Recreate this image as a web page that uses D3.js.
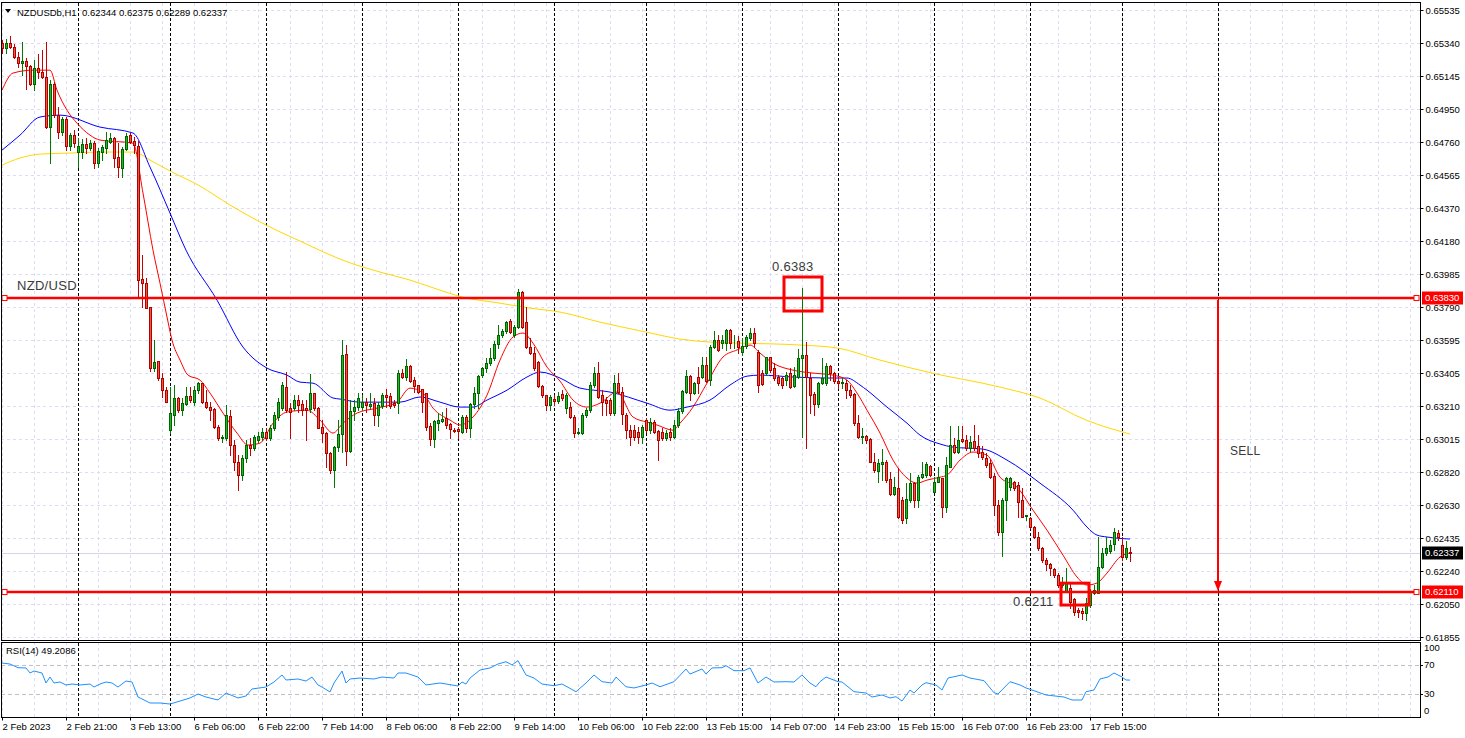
<!DOCTYPE html>
<html>
<head>
<meta charset="utf-8">
<script src="https://d3js.org/d3.v7.min.js"></script>
<style>
  body { margin: 0; background: #fff; }
  svg { display: block; font-family: "Liberation Sans", Arial, sans-serif; }
</style>
</head>
<body>
<div id="chart"></div>
<script>
// NZDUSD H1 chart - candles, 3 moving averages, RSI(14)

const symbol = "NZDUSDb,H1";

// price axis labels (top to bottom)
const priceTicks = ["0.65535","0.65340","0.65145","0.64950","0.64760","0.64565","0.64370","0.64180","0.63985","0.63790",
  "0.63595","0.63405","0.63210","0.63015","0.62820","0.62630","0.62435","0.62240","0.62050","0.61855"];

// time labels: bar index and text
const timeBars = [0,16,32,48,64,80,96,112,128,144,160,176,192,208,224,240,256,272];
const timeText = ["2 Feb 2023","2 Feb 21:00","3 Feb 13:00","6 Feb 06:00","6 Feb 22:00","7 Feb 14:00","8 Feb 06:00",
  "8 Feb 22:00","9 Feb 14:00","10 Feb 06:00","10 Feb 22:00","13 Feb 15:00","14 Feb 07:00","14 Feb 23:00",
  "15 Feb 15:00","16 Feb 07:00","16 Feb 23:00","17 Feb 15:00"];

// day separators (bar index)
const daySeparators = [19,42,66,90,114,138,161,185,209,233,257,280,304];

// hourly candles: [open, high, low, close]
const candles = [
[0.65321,0.65339,0.65263,0.65292],[0.65292,0.65345,0.65263,0.65321],[0.65321,0.65362,0.65292,0.65298],[0.65298,0.65316,0.65234,0.65240],
[0.65240,0.65269,0.65181,0.65204],[0.65204,0.65327,0.65134,0.65216],[0.65216,0.65234,0.65052,0.65187],[0.65187,0.65193,0.65076,0.65082],
[0.65082,0.65222,0.65046,0.65175],[0.65175,0.65257,0.65117,0.65152],[0.65152,0.65280,0.65117,0.65123],[0.65123,0.65327,0.64824,0.64830],
[0.64830,0.65105,0.64619,0.65082],[0.65082,0.65093,0.64889,0.64900],[0.64900,0.64947,0.64766,0.64801],[0.64801,0.64889,0.64783,0.64877],
[0.64877,0.64889,0.64695,0.64719],[0.64719,0.64795,0.64695,0.64783],[0.64783,0.64812,0.64713,0.64736],[0.64684,0.64766,0.64596,0.64719],
[0.64684,0.64760,0.64649,0.64731],[0.64731,0.64766,0.64678,0.64707],[0.64707,0.64754,0.64695,0.64736],[0.64736,0.64748,0.64590,0.64619],
[0.64619,0.64707,0.64596,0.64690],[0.64684,0.64725,0.64637,0.64713],[0.64707,0.64801,0.64678,0.64754],[0.64742,0.64795,0.64736,0.64766],
[0.64766,0.64772,0.64596,0.64649],[0.64655,0.64736,0.64538,0.64596],[0.64590,0.64713,0.64538,0.64701],[0.64701,0.64795,0.64695,0.64777],
[0.64783,0.64795,0.64736,0.64742],[0.64748,0.64772,0.64678,0.64725],[0.64719,0.64748,0.63836,0.63935],[0.63941,0.64081,0.63777,0.63917],
[0.63917,0.63947,0.63771,0.63771],[0.63777,0.63777,0.63403,0.63420],[0.63420,0.63584,0.63403,0.63455],[0.63461,0.63461,0.63350,0.63362],
[0.63362,0.63391,0.63251,0.63291],[0.63291,0.63309,0.63221,0.63221],[0.63057,0.63309,0.63040,0.63157],[0.63145,0.63321,0.63087,0.63245],
[0.63245,0.63251,0.63163,0.63174],[0.63174,0.63245,0.63145,0.63215],[0.63210,0.63309,0.63204,0.63256],[0.63256,0.63309,0.63221,0.63233],
[0.63221,0.63315,0.63204,0.63291],[0.63291,0.63338,0.63274,0.63332],[0.63332,0.63332,0.63215,0.63221],[0.63221,0.63291,0.63186,0.63192],
[0.63192,0.63221,0.63116,0.63174],[0.63180,0.63186,0.63069,0.63075],[0.63075,0.63087,0.62999,0.63011],[0.63011,0.63028,0.62987,0.63017],
[0.63011,0.63204,0.62999,0.63145],[0.63139,0.63174,0.62911,0.62970],[0.62970,0.62999,0.62823,0.62870],[0.62870,0.62911,0.62706,0.62794],
[0.62794,0.62911,0.62765,0.62894],[0.62894,0.62999,0.62870,0.62970],[0.62970,0.63011,0.62911,0.62952],[0.62952,0.63028,0.62940,0.63017],
[0.62999,0.63046,0.62987,0.63022],[0.63017,0.63069,0.62999,0.63046],[0.63046,0.63069,0.62999,0.63011],[0.63011,0.63087,0.62999,0.63069],
[0.63069,0.63163,0.63057,0.63145],[0.63134,0.63245,0.63116,0.63221],[0.63186,0.63338,0.63174,0.63321],[0.63309,0.63397,0.63163,0.63174],
[0.63186,0.63215,0.63011,0.63163],[0.63186,0.63262,0.63174,0.63233],[0.63233,0.63262,0.63163,0.63204],[0.63210,0.63233,0.63145,0.63174],
[0.63186,0.63233,0.62999,0.63174],[0.63180,0.63385,0.63163,0.63274],[0.63274,0.63274,0.63174,0.63186],[0.63186,0.63192,0.63069,0.63069],
[0.63075,0.63116,0.62987,0.63040],[0.63040,0.63046,0.62841,0.62923],[0.62923,0.62929,0.62806,0.62823],[0.62823,0.62964,0.62724,0.62958],
[0.62958,0.63116,0.62935,0.63034],[0.63034,0.63584,0.62929,0.63496],[0.63502,0.63555,0.62853,0.62935],[0.62935,0.63233,0.62929,0.63169],
[0.63169,0.63233,0.63116,0.63192],[0.63192,0.63274,0.63174,0.63245],[0.63192,0.63262,0.63174,0.63221],[0.63221,0.63245,0.63163,0.63204],
[0.63198,0.63274,0.63186,0.63210],[0.63215,0.63245,0.63087,0.63145],[0.63145,0.63221,0.63081,0.63204],[0.63198,0.63274,0.63186,0.63262],
[0.63262,0.63297,0.63192,0.63251],[0.63256,0.63274,0.63186,0.63198],[0.63215,0.63233,0.63192,0.63204],[0.63215,0.63408,0.63157,0.63391],
[0.63391,0.63414,0.63362,0.63368],[0.63368,0.63473,0.63350,0.63432],[0.63432,0.63438,0.63338,0.63344],[0.63350,0.63368,0.63280,0.63315],
[0.63321,0.63321,0.63274,0.63280],[0.63297,0.63297,0.63163,0.63221],[0.63274,0.63274,0.63057,0.63075],[0.63081,0.63098,0.62970,0.63005],
[0.63005,0.63116,0.62958,0.63110],[0.63098,0.63157,0.63057,0.63116],[0.63110,0.63163,0.63104,0.63122],[0.63128,0.63186,0.63069,0.63087],
[0.63093,0.63098,0.63011,0.63063],[0.63057,0.63069,0.63046,0.63052],[0.63063,0.63075,0.63011,0.63052],[0.63046,0.63145,0.63040,0.63134],
[0.63134,0.63145,0.63046,0.63069],[0.63069,0.63215,0.63017,0.63210],[0.63210,0.63309,0.63186,0.63274],[0.63274,0.63379,0.63186,0.63373],
[0.63379,0.63426,0.63368,0.63420],[0.63420,0.63479,0.63397,0.63449],[0.63449,0.63537,0.63438,0.63479],[0.63479,0.63578,0.63467,0.63561],
[0.63561,0.63672,0.63537,0.63613],[0.63613,0.63648,0.63602,0.63637],[0.63637,0.63695,0.63625,0.63689],[0.63695,0.63707,0.63625,0.63631],
[0.63613,0.63672,0.63602,0.63660],[0.63660,0.63882,0.63654,0.63865],[0.63865,0.63871,0.63654,0.63660],[0.63689,0.63777,0.63537,0.63543],
[0.63543,0.63596,0.63502,0.63508],[0.63508,0.63543,0.63408,0.63420],[0.63455,0.63461,0.63309,0.63315],[0.63315,0.63321,0.63251,0.63262],
[0.63262,0.63262,0.63174,0.63204],[0.63204,0.63262,0.63174,0.63251],[0.63239,0.63262,0.63204,0.63227],[0.63227,0.63280,0.63215,0.63256],
[0.63268,0.63291,0.63233,0.63245],[0.63186,0.63274,0.63157,0.63262],[0.63192,0.63221,0.63128,0.63134],[0.63134,0.63145,0.63017,0.63040],
[0.63040,0.63069,0.63034,0.63046],[0.63040,0.63157,0.63034,0.63145],[0.63145,0.63186,0.63134,0.63174],[0.63174,0.63338,0.63163,0.63321],
[0.63321,0.63426,0.63309,0.63391],[0.63391,0.63455,0.63245,0.63251],[0.63262,0.63291,0.63145,0.63221],[0.63233,0.63251,0.63145,0.63215],
[0.63233,0.63245,0.63145,0.63157],[0.63157,0.63379,0.63145,0.63332],[0.63332,0.63391,0.63274,0.63280],[0.63280,0.63309,0.63093,0.63151],
[0.63145,0.63157,0.63011,0.63057],[0.63057,0.63087,0.62970,0.63017],[0.63057,0.63087,0.62999,0.63017],[0.63046,0.63075,0.62981,0.63017],
[0.63017,0.63087,0.62981,0.63075],[0.63116,0.63128,0.63046,0.63057],[0.63057,0.63128,0.63040,0.63104],[0.63104,0.63116,0.63040,0.63046],
[0.63052,0.63057,0.62882,0.62999],[0.63046,0.63069,0.62999,0.63011],[0.63011,0.63057,0.62999,0.63040],[0.63046,0.63069,0.62999,0.63017],
[0.63017,0.63116,0.63011,0.63087],[0.63087,0.63186,0.63075,0.63169],[0.63169,0.63291,0.63157,0.63286],[0.63280,0.63408,0.63274,0.63373],
[0.63373,0.63379,0.63233,0.63274],[0.63274,0.63338,0.63268,0.63332],[0.63368,0.63426,0.63274,0.63332],[0.63368,0.63485,0.63362,0.63438],
[0.63438,0.63485,0.63338,0.63344],[0.63350,0.63555,0.63321,0.63543],[0.63543,0.63637,0.63537,0.63584],[0.63584,0.63613,0.63520,0.63526],
[0.63566,0.63613,0.63537,0.63584],[0.63566,0.63648,0.63526,0.63643],[0.63643,0.63648,0.63537,0.63566],[0.63578,0.63613,0.63537,0.63580],
[0.63578,0.63607,0.63508,0.63543],[0.63514,0.63596,0.63496,0.63549],[0.63549,0.63613,0.63537,0.63602],[0.63596,0.63654,0.63584,0.63625],
[0.63625,0.63654,0.63543,0.63566],[0.63514,0.63526,0.63280,0.63321],[0.63391,0.63408,0.63321,0.63327],[0.63391,0.63485,0.63379,0.63485],
[0.63485,0.63485,0.63397,0.63408],[0.63420,0.63449,0.63350,0.63362],[0.63368,0.63379,0.63321,0.63332],[0.63362,0.63368,0.63303,0.63321],
[0.63350,0.63397,0.63321,0.63379],[0.63391,0.63420,0.63303,0.63309],[0.63315,0.63426,0.63309,0.63379],[0.63368,0.63532,0.63362,0.63479],
[0.63479,0.63888,0.63017,0.63496],[0.63496,0.63572,0.62952,0.63368],[0.63362,0.63391,0.63157,0.63262],[0.63268,0.63280,0.63145,0.63210],
[0.63210,0.63338,0.63192,0.63332],[0.63332,0.63479,0.63327,0.63362],[0.63332,0.63449,0.63321,0.63432],[0.63432,0.63438,0.63350,0.63391],
[0.63391,0.63397,0.63332,0.63344],[0.63344,0.63368,0.63303,0.63332],[0.63332,0.63362,0.63303,0.63338],[0.63332,0.63350,0.63245,0.63291],
[0.63291,0.63321,0.63251,0.63262],[0.63268,0.63274,0.63087,0.63098],[0.63098,0.63145,0.63011,0.63017],[0.63017,0.63069,0.62981,0.63022],
[0.63022,0.63028,0.62981,0.62999],[0.63005,0.63011,0.62870,0.62870],[0.62870,0.62923,0.62812,0.62823],[0.62818,0.62888,0.62753,0.62864],
[0.62859,0.62946,0.62765,0.62870],[0.62870,0.62882,0.62753,0.62765],[0.62771,0.62812,0.62677,0.62683],[0.62683,0.62783,0.62677,0.62724],
[0.62718,0.62835,0.62543,0.62549],[0.62648,0.62666,0.62513,0.62531],[0.62543,0.62747,0.62513,0.62654],[0.62648,0.62806,0.62636,0.62747],
[0.62747,0.62753,0.62607,0.62648],[0.62648,0.62794,0.62607,0.62782],[0.62782,0.62870,0.62777,0.62800],[0.62794,0.62870,0.62782,0.62859],
[0.62847,0.62853,0.62788,0.62794],[0.62695,0.62782,0.62695,0.62753],[0.62753,0.62841,0.62753,0.62782],[0.62777,0.62777,0.62549,0.62607],
[0.62607,0.62900,0.62578,0.62853],[0.62841,0.63081,0.62841,0.62970],[0.62970,0.63011,0.62923,0.62929],[0.62929,0.63081,0.62923,0.62999],
[0.63005,0.63081,0.62987,0.62993],[0.62999,0.63028,0.62940,0.62952],[0.62952,0.63022,0.62935,0.62987],[0.62993,0.63087,0.62940,0.62952],
[0.62964,0.63028,0.62900,0.62923],[0.62929,0.62964,0.62888,0.62900],[0.62894,0.62923,0.62841,0.62853],[0.62864,0.62888,0.62777,0.62782],
[0.62788,0.62806,0.62560,0.62619],[0.62619,0.62648,0.62443,0.62461],[0.62461,0.62660,0.62320,0.62648],[0.62648,0.62782,0.62531,0.62777],
[0.62724,0.62782,0.62706,0.62777],[0.62753,0.62759,0.62706,0.62718],[0.62736,0.62753,0.62549,0.62636],[0.62648,0.62718,0.62549,0.62549],
[0.62554,0.62560,0.62531,0.62560],[0.62543,0.62549,0.62484,0.62490],[0.62490,0.62496,0.62426,0.62432],[0.62432,0.62461,0.62356,0.62367],
[0.62367,0.62373,0.62285,0.62297],[0.62297,0.62309,0.62238,0.62274],[0.62274,0.62279,0.62209,0.62250],[0.62244,0.62250,0.62198,0.62209],
[0.62209,0.62221,0.62139,0.62151],[0.62151,0.62198,0.62139,0.62163],[0.62116,0.62250,0.62110,0.62163],[0.62133,0.62163,0.62016,0.62051],
[0.62069,0.62075,0.61975,0.61993],[0.62004,0.62016,0.61964,0.61993],[0.61999,0.62016,0.61952,0.61987],[0.61987,0.62075,0.61946,0.62045],
[0.62034,0.62127,0.62022,0.62110],[0.62104,0.62151,0.62098,0.62121],[0.62104,0.62432,0.62104,0.62256],[0.62256,0.62367,0.62250,0.62338],
[0.62338,0.62432,0.62326,0.62367],[0.62350,0.62414,0.62338,0.62385],[0.62391,0.62484,0.62356,0.62461],[0.62455,0.62472,0.62414,0.62432],
[0.62385,0.62432,0.62297,0.62315],[0.62315,0.62408,0.62303,0.62367],[0.62344,0.62375,0.62289,0.62337]
];

// moving averages: [bar index, price]
const maFast = [[0,0.65046],[2.75,0.65146],[7.75,0.65163],[12,0.65163],[13.75,0.65046],[16.25,0.64929],[18.75,0.64853],[22,0.64783],
  [24.5,0.64754],[32.75,0.64736],[35.25,0.64444],[37.75,0.64110],[39.5,0.63917],[41.25,0.63719],[42.5,0.63584],[44.5,0.63467],
  [46.5,0.63379],[49.5,0.63350],[52,0.63274],[55.25,0.63157],[58.75,0.63040],[61.5,0.62970],[64.5,0.62981],[67.75,0.63098],
  [71.25,0.63163],[76.25,0.63174],[79.5,0.63116],[82.75,0.63040],[85.25,0.63098],[88.75,0.63157],[93.75,0.63186],[98.75,0.63221],
  [102,0.63303],[105.25,0.63274],[107.75,0.63186],[112,0.63116],[114.5,0.63087],[117.75,0.63134],[121.25,0.63262],[124.5,0.63467],
  [127.75,0.63602],[130.25,0.63625],[132.75,0.63566],[136.25,0.63426],[139.5,0.63344],[142.75,0.63233],[146.25,0.63192],[149.5,0.63215],
  [153.75,0.63280],[157.75,0.63134],[161.25,0.63104],[163.75,0.63087],[167.75,0.63057],[169.5,0.63098],[172.75,0.63192],[176.25,0.63332],
  [180.25,0.63485],[183.75,0.63526],[187,0.63555],[189.5,0.63508],[192.75,0.63449],[197.75,0.63408],[202.75,0.63391],[207.75,0.63379],
  [211.25,0.63350],[213.75,0.63274],[216.25,0.63174],[219.5,0.63040],[222.75,0.62882],[226.25,0.62777],[228.75,0.62747],[231.25,0.62765],
  [234.5,0.62782],[236.25,0.62794],[239.5,0.62882],[242.75,0.62929],[246.25,0.62911],[249.5,0.62782],[253.75,0.62724],[257.75,0.62589],
  [261.25,0.62472],[265.25,0.62326],[268.75,0.62198],[271.25,0.62151],[273.75,0.62163],[276.25,0.62221],[279.5,0.62315],[282,0.62338]];

const maMid = [[0,0.64695],[4.5,0.64783],[9.5,0.64889],[14.5,0.64900],[24.5,0.64830],[32.75,0.64795],[37,0.64596],[42,0.64327],
  [46,0.64110],[53.75,0.63818],[60.25,0.63543],[66.25,0.63420],[71.25,0.63379],[74.5,0.63338],[77.75,0.63332],[82.75,0.63245],
  [84.5,0.63239],[89.5,0.63221],[99.5,0.63221],[104.5,0.63251],[109.5,0.63221],[114.5,0.63192],[117.75,0.63192],[121.25,0.63233],
  [126.25,0.63291],[131.25,0.63368],[134.5,0.63397],[139.5,0.63362],[144.5,0.63303],[152,0.63280],[161.25,0.63215],[167,0.63174],
  [171.25,0.63192],[177,0.63233],[182,0.63321],[186.25,0.63373],[189.5,0.63379],[197.75,0.63368],[206.25,0.63362],[211.25,0.63362],
  [214.5,0.63321],[216.25,0.63291],[221.25,0.63192],[226.25,0.63098],[229.5,0.63028],[234.5,0.62976],[237.75,0.62958],[245.25,0.62946],
  [251.25,0.62882],[259.5,0.62747],[267.75,0.62589],[271.25,0.62490],[273.75,0.62443],[276.25,0.62432],[282,0.62420]];

const maSlow = [[0,0.64608],[4.5,0.64649],[9.5,0.64672],[17,0.64678],[24.5,0.64684],[33,0.64684],[37,0.64637],[42,0.64573],
  [49.5,0.64485],[57,0.64374],[66,0.64257],[74.5,0.64163],[86.5,0.64040],[94.5,0.63982],[102,0.63935],[109.5,0.63876],[115,0.63836],
  [124.5,0.63800],[132,0.63771],[139.5,0.63748],[149.5,0.63689],[161,0.63631],[169.5,0.63590],[177,0.63572],[185,0.63566],
  [199.5,0.63555],[209,0.63537],[219.5,0.63467],[232.5,0.63391],[249.5,0.63309],[259.5,0.63245],[271,0.63116],[282,0.63034]];

// RSI(14): [bar index, value]
const rsi = [[0,72.6],[2,71.2],[4,66.2],[6,65.8],[7,58.9],[8,61.6],[10,58.9],[11,45.2],[12,53.4],[13,45.2],[14.5,46.6],[16,42.5],
  [17.5,43.8],[19.5,42.5],[22,43.8],[23,39.7],[24.5,43.8],[26,46.6],[27.5,45.2],[29,39.7],[31,47.9],[32.5,46.6],[34,26],[34.5,24.7],
  [37,17.8],[39.5,17.8],[42,16.4],[44.5,20.5],[47,24.7],[49,30.1],[51,26],[54,21.9],[56,31.5],[59,24.7],[61,27.4],[62.5,37],[66,39.7],
  [68,46.6],[70,56.2],[71,49.3],[74,50.7],[76,47.9],[77.5,53.4],[79,42.5],[80,39.7],[82,32.9],[83,45.2],[85,61.6],[86,45.2],[87,50.7],
  [89.5,52],[93,50.7],[95,53.4],[98,52],[99,58.9],[101,58.9],[104,53.4],[106,42.5],[109.5,45.2],[114,41.1],[115,46.6],[116,43.8],
  [117,52],[119.5,63],[122,65.8],[124,71.2],[126,74.4],[127.5,69.9],[129,75.8],[131,56.2],[133,52],[135,43.8],[138,41.5],[140,43.8],
  [143.5,33.3],[146,45.2],[148,56.2],[150,47],[152.5,45.2],[153.5,53.4],[156,40.1],[158,38.4],[161,42.5],[162.5,45.2],[164.5,40.1],
  [168,47],[171,64.4],[172,57.5],[175,64.4],[176,57.5],[177.5,65.8],[180,66.2],[181,68.9],[183,62.1],[185.5,62.1],[187,65.8],
  [189,45.2],[191,53.4],[193,46.6],[196,47],[198,46.6],[200,56.2],[202,45.2],[203.5,40.1],[204.5,47],[206,53.4],[209,47],[210,46.6],
  [213,33.3],[216,31.5],[217.5,26],[220,28.8],[222,24.7],[223.5,26.4],[225,20.5],[227,35.6],[228,31.5],[230,42.5],[231,45.6],
  [233.5,42.5],[235,35.6],[236.5,52],[240,56.2],[242,52],[245.5,48.4],[248,31.9],[249,30.1],[252,47],[254.5,42.5],[256,38.4],
  [257.5,35.6],[261,28.8],[265.5,26],[267.5,21.9],[270,21.9],[271,33.3],[273,35.6],[274.5,50.7],[276.5,53.4],[278,58.9],[280,53.4],
  [281,49.3],[282,49.2]];
const rsiLast = "49.2086";
const rsiTicks = [100, 70, 30, 0];
const rsiLevels = [70, 30];

// horizontal levels and annotations
const levels = [0.6383, 0.6211];
const lastPrice = 0.62337;
const boxes = [[195.5, 205, 0.63953, 0.63754], [264.75, 271.75, 0.62162, 0.62034]];
const notes = [["NZD/USD", 3.75, 0.63906], ["0.6383", 192.5, 0.64017], ["0.6211", 252.75, 0.62057], ["SELL", 307, 0.62935]];
const sellBar = 304;

// ---------------------------------------------------------------
const width = 1465, height = 738;
const plotL = 1, plotR = 1420, plotT = 3, plotB = 640, rsiT = 642, rsiB = 717;

const svg = d3.select("#chart").append("svg")
  .attr("width", width).attr("height", height);

const x = d3.scaleLinear().domain([0, 352]).range([2, 1410]);
const y = d3.scaleLinear().domain([0.61847, 0.65515]).range([637, 10]);
const yR = d3.scaleLinear().domain([0, 100]).range([716, 643]);
const px = i => Math.round(x(i));

const defs = svg.append("defs");
defs.append("clipPath").attr("id", "clipMain").append("rect")
  .attr("x", plotL + 1).attr("y", plotT + 1).attr("width", plotR - plotL - 1).attr("height", plotB - plotT - 1);
defs.append("clipPath").attr("id", "clipRsi").append("rect")
  .attr("x", plotL + 1).attr("y", rsiT + 1).attr("width", plotR - plotL - 1).attr("height", rsiB - rsiT - 1);

// evenly spaced tick positions for the price labels
const dom = y.domain();
const tickVals = priceTicks.map((t, k) => dom[1] - k * (dom[1] - dom[0]) / (priceTicks.length - 1));

// grid
const gridBars = d3.range(0, 353, 8);
const grid = svg.append("g").attr("shape-rendering", "crispEdges")
  .attr("stroke", "#dcdcf2").attr("stroke-dasharray", "3,3");
grid.append("g").selectAll("line").data(gridBars).join("line")
  .attr("x1", d => px(d) + 0.5).attr("x2", d => px(d) + 0.5).attr("y1", plotT).attr("y2", plotB);
grid.append("g").selectAll("line").data(gridBars).join("line")
  .attr("x1", d => px(d) + 0.5).attr("x2", d => px(d) + 0.5).attr("y1", rsiT).attr("y2", rsiB);
grid.append("g").selectAll("line").data(tickVals).join("line")
  .attr("x1", plotL).attr("x2", plotR)
  .attr("y1", d => Math.round(y(d)) + 0.5).attr("y2", d => Math.round(y(d)) + 0.5);

// RSI 70/30 levels
svg.append("g").attr("shape-rendering", "crispEdges").selectAll("line").data(rsiLevels).join("line")
  .attr("x1", plotL).attr("x2", plotR)
  .attr("y1", d => Math.round(yR(d)) + 0.5).attr("y2", d => Math.round(yR(d)) + 0.5)
  .attr("stroke", "#c0c0c0").attr("stroke-dasharray", "4,3");

// last price line
svg.append("line").attr("shape-rendering", "crispEdges")
  .attr("x1", plotL).attr("x2", plotR)
  .attr("y1", Math.round(y(lastPrice)) + 0.5).attr("y2", Math.round(y(lastPrice)) + 0.5)
  .attr("stroke", "#d4d4ea");

// day separators
svg.append("g").attr("shape-rendering", "crispEdges").selectAll("line").data(daySeparators).join("line")
  .attr("x1", d => px(d) + 0.5).attr("x2", d => px(d) + 0.5).attr("y1", plotT).attr("y2", rsiB)
  .attr("stroke", "#000").attr("stroke-dasharray", "3,2");

// moving averages
const plot = svg.append("g").attr("clip-path", "url(#clipMain)");
const maLine = d3.line().x(d => x(d[0])).y(d => y(d[1])).curve(d3.curveMonotoneX);
plot.append("path").datum(maSlow).attr("d", maLine).attr("fill", "none").attr("stroke", "#ffd700").attr("stroke-width", 1);
plot.append("path").datum(maMid).attr("d", maLine).attr("fill", "none").attr("stroke", "#0000ff").attr("stroke-width", 1);
plot.append("path").datum(maFast).attr("d", maLine).attr("fill", "none").attr("stroke", "#ff0000").attr("stroke-width", 1);

// candles
const cg = plot.append("g").attr("shape-rendering", "crispEdges");
const bull = d => d[3] >= d[0];
cg.selectAll("line").data(candles).join("line")
  .attr("x1", (d, i) => px(i) + 0.5).attr("x2", (d, i) => px(i) + 0.5)
  .attr("y1", d => Math.round(y(d[1]))).attr("y2", d => Math.round(y(d[2])) + 1)
  .attr("stroke", d => bull(d) ? "#007a00" : "#c80000");
cg.selectAll("rect").data(candles).join("rect")
  .attr("x", (d, i) => px(i) - 0.5).attr("width", 2)
  .attr("y", d => Math.round(y(Math.max(d[0], d[3]))) + 0.5)
  .attr("height", d => Math.max(0, Math.round(y(Math.min(d[0], d[3]))) - Math.round(y(Math.max(d[0], d[3])))))
  .attr("fill", d => bull(d) ? "#25b525" : "#ea5a3c")
  .attr("stroke", d => bull(d) ? "#006400" : "#b00000");

// level lines with end markers
const lv = svg.append("g");
lv.selectAll("line").data(levels).join("line")
  .attr("x1", 4).attr("x2", 1417).attr("y1", d => y(d)).attr("y2", d => y(d))
  .attr("stroke", "#ff0000").attr("stroke-width", 2.5);
lv.selectAll("rect.m1").data(levels).join("rect").attr("class", "m1")
  .attr("x", 2).attr("y", d => y(d) - 2.5).attr("width", 5).attr("height", 5)
  .attr("fill", "#fff").attr("stroke", "#ff0000");
lv.selectAll("rect.m2").data(levels).join("rect").attr("class", "m2")
  .attr("x", 1414).attr("y", d => y(d) - 2.5).attr("width", 5).attr("height", 5)
  .attr("fill", "#fff").attr("stroke", "#ff0000");

// boxes around the extremes
svg.append("g").selectAll("rect").data(boxes).join("rect")
  .attr("x", d => x(d[0])).attr("width", d => x(d[1]) - x(d[0]))
  .attr("y", d => y(d[2])).attr("height", d => y(d[3]) - y(d[2]))
  .attr("fill", "none").attr("stroke", "#ff0000").attr("stroke-width", 3);

// sell arrow
const ay0 = y(levels[0]) + 2, ay1 = y(levels[1]) - 1;
svg.append("line").attr("x1", x(sellBar)).attr("x2", x(sellBar)).attr("y1", ay0).attr("y2", ay1 - 8)
  .attr("stroke", "#ff0000").attr("stroke-width", 2);
svg.append("path")
  .attr("d", `M${x(sellBar) - 4},${ay1 - 10} L${x(sellBar) + 4},${ay1 - 10} L${x(sellBar)},${ay1} Z`)
  .attr("fill", "#ff0000");

// annotation texts
svg.append("g").selectAll("text").data(notes).join("text")
  .attr("x", d => x(d[1])).attr("y", d => y(d[2])).attr("dy", "0.35em")
  .attr("font-size", d => d[0] === "SELL" ? 12 : 13).attr("letter-spacing", 0.3)
  .attr("fill", "#3a3a3a").text(d => d[0]);

// RSI line
svg.append("g").attr("clip-path", "url(#clipRsi)").append("path").datum(rsi)
  .attr("d", d3.line().x(d => x(d[0])).y(d => yR(d[1])))
  .attr("fill", "none").attr("stroke", "#1e90ff").attr("stroke-width", 1);

// frames
svg.append("rect").attr("x", plotL + 0.5).attr("y", plotT - 0.5).attr("width", plotR - plotL).attr("height", plotB - plotT + 1)
  .attr("fill", "none").attr("stroke", "#000").attr("shape-rendering", "crispEdges");
svg.append("rect").attr("x", plotL + 0.5).attr("y", rsiT + 0.5).attr("width", plotR - plotL).attr("height", rsiB - rsiT)
  .attr("fill", "none").attr("stroke", "#000").attr("shape-rendering", "crispEdges");

// price axis
const axR = svg.append("g").attr("transform", `translate(${plotR + 0.5},0)`)
  .call(d3.axisRight(y).tickValues(tickVals).tickFormat((d, k) => priceTicks[k]).tickSize(3).tickPadding(2).tickSizeOuter(0));
axR.select(".domain").remove();
axR.selectAll("text").attr("font-size", 9.5).attr("font-family", "Liberation Sans, Arial, sans-serif").attr("fill", "#000");

// price tags
const tags = [[levels[0], "#ff0000"], [levels[1], "#ff0000"], [lastPrice, "#000000"]];
const tg = svg.append("g").selectAll("g").data(tags).join("g")
  .attr("transform", d => `translate(${plotR + 2},${Math.round(y(d[0]))})`);
tg.append("rect").attr("x", 0).attr("y", -6.5).attr("width", 41).attr("height", 13).attr("fill", d => d[1]);
tg.append("text").attr("x", 3).attr("dy", "0.35em").attr("font-size", 9.5).attr("fill", "#fff")
  .text(d => d[0].toFixed(5));

// RSI axis
const rsiAx = svg.append("g");
rsiAx.selectAll("line").data(rsiLevels).join("line")
  .attr("x1", plotR).attr("x2", plotR + 3)
  .attr("y1", d => Math.round(yR(d)) + 0.5).attr("y2", d => Math.round(yR(d)) + 0.5).attr("stroke", "#000");
rsiAx.selectAll("text").data(rsiTicks).join("text")
  .attr("x", plotR + 4)
  .attr("y", d => yR(d) + (d === 100 ? 5 : d === 0 ? -5 : 0)).attr("dy", "0.35em")
  .attr("font-size", 9.5).attr("fill", "#000").text(d => d);

// time axis
const axB = svg.append("g").attr("transform", `translate(0,${rsiB + 0.5})`)
  .call(d3.axisBottom(x).tickValues(timeBars).tickFormat((d, k) => timeText[k]).tickSize(3).tickPadding(3).tickSizeOuter(0));
axB.select(".domain").remove();
axB.selectAll("text").attr("text-anchor", "start").attr("font-size", 9.5)
  .attr("font-family", "Liberation Sans, Arial, sans-serif").attr("fill", "#000");

// header
const last = candles[candles.length - 1];
svg.append("path").attr("d", "M5,9 L11,9 L8,13 Z").attr("fill", "#000");
svg.append("text").attr("x", 17).attr("y", 15.5).attr("font-size", 9.5).attr("fill", "#000").text(symbol);
svg.append("text").attr("x", 82).attr("y", 15.5).attr("font-size", 9.5).attr("fill", "#000")
  .text(last.map(v => v.toFixed(5)).join(" "));
svg.append("text").attr("x", 6).attr("y", 653.5).attr("font-size", 9.5).attr("fill", "#000")
  .text(`RSI(14) ${rsiLast}`);
</script>
</body>
</html>
